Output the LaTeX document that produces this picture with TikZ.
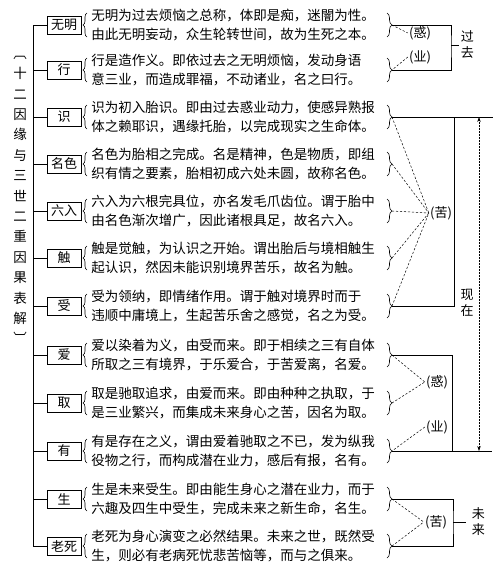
\documentclass[tikz,border=0pt]{standalone}
\usepackage{fontspec}
\setmainfont{Noto Sans CJK SC}
\usepackage{tikz}
\usetikzlibrary{arrows.meta, decorations.pathreplacing, positioning}
\tikzset{>={Stealth[length=5pt,width=3.4pt]}}
\tikzset{
	itembox/.style={draw, line width=0.6pt, minimum width=34pt, minimum height=18pt, inner sep=0pt, font=\fontsize{13}{13}\selectfont},
	textline/.style={anchor=west, inner sep=0pt, font=\fontsize{13.5}{14}\selectfont},
	tag/.style={inner sep=1pt, font=\fontsize{13}{13}\selectfont},
	vlabel/.style={align=center, inner sep=0pt, font=\fontsize{13}{16}\selectfont},
	lbrace/.style={decorate, decoration={brace, amplitude=4pt}},
	rbrace/.style={decorate, decoration={brace, amplitude=5pt}},
	guide/.style={line width=0.5pt, dash pattern=on 2.2pt off 1.8pt},
}

\begin{document}
\begin{tikzpicture}[x=1pt, y=-1pt, line width=0.6pt]
			\useasboundingbox (0,0) rectangle (500,570);
			\node [vlabel, font=\fontsize{13.5}{20.4}\selectfont] (title) at (20,200) {︹\\十\\二\\因\\缘\\与\\三\\世\\二\\重\\因\\果\\表\\解\\︺};
			\coordinate (trunk) at (33,0);
			\foreach \k/\y/\lab/\la/\lb in {
				1/25/无明/无明为过去烦恼之总称，体即是痴，迷闇为性。/由此无明妄动，众生轮转世间，故为生死之本。,
				2/70/行/行是造作义。即依过去之无明烦恼，发动身语/意三业，而造成罪福，不动诸业，名之曰行。,
				3/117/识/识为初入胎识。即由过去惑业动力，使感异熟报/体之赖耶识，遇缘托胎，以完成现实之生命体。,
				4/164/名色/名色为胎相之完成。名是精神，色是物质，即组/织有情之要素，胎相初成六处未圆，故称名色。,
				5/211/六入/六入为六根完具位，亦名发毛爪齿位。谓于胎中/由名色渐次增广，因此诸根具足，故名六入。,
				6/258/触/触是觉触，为认识之开始。谓出胎后与境相触生/起认识，然因未能识别境界苦乐，故名为触。,
				7/306/受/受为领纳，即情绪作用。谓于触对境界时而于/违顺中庸境上，生起苦乐舍之感觉，名之为受。,
				8/355/爱/爱以染着为义，由受而来。即于相续之三有自体/所取之三有境界，于乐爱合，于苦爱离，名爱。,
				9/403/取/取是驰取追求，由爱而来。即由种种之执取，于/是三业繁兴，而集成未来身心之苦，因名为取。,
				10/451/有/有是存在之义，谓由爱着驰取之不已，发为纵我/役物之行，而构成潜在业力，感后有报，名有。,
				11/499/生/生是未来受生。即由能生身心之潜在业力，而于/六趣及四生中受生，完成未来之新生命，名生。,
				12/546/老死/老死为身心演变之必然结果。未来之世，既然受/生，则必有老病死忧悲苦恼等，而与之俱来。}
			{
				\node [itembox] (box\k) at (64,\y) {\lab};
				\draw (trunk |- box\k.west) -- (box\k.west);
				\draw [lbrace] (87,\y+12) -- (87,\y-12);
				\node [textline] (txt\k-1) at (91,\y-9.5) {\la};
				\node [textline] (txt\k-2) at (91,\y+9.5) {\lb};
				\draw [rbrace] (387,\y-12) -- (387,\y+12);
				\coordinate (tip\k) at (392,\y);
			}
			\draw (trunk |- box1.west) -- (trunk |- box12.west);
			\coordinate (pastx) at (451,45);
			\draw (tip1) -| (pastx) |- (tip2);
			\node [tag] (huo1) at (420,33) {(惑)};
			\node [tag] (ye1) at (420,57) {(业)};
			\draw [guide] (tip1) -- (huo1.west);
			\draw [guide] (ye1.west) -- (tip2);
			\node [vlabel, anchor=west] (pastlab) at (460.5,45) {过\\去};
			\draw [shorten >=2pt] (pastx) -- (pastlab.west);
			\coordinate (nowx) at (454,0);
			\coordinate (causex) at (452,0);
			\coordinate (arrx) at (479,0);
			\coordinate (nowtop) at (493,117);
			\coordinate (nowbot) at (492,451);
			\draw (tip3) -- (nowtop);
			\draw (tip10) -- (nowbot);
			\draw (tip3 -| nowx) |- (tip7);
			\draw (tip8) -| (tip10 -| causex);
			\draw [<->, line width=0.5pt, densely dotted] (nowtop -| arrx) -- (nowbot -| arrx);
			\node [tag] (ku1) at (441,213) {(苦)};
			\foreach \k in {3,...,7} \draw [guide] (tip\k) -- (ku1.west);
			\node [tag] (huo2) at (437,382) {(惑)};
			\node [tag] (ye2) at (437,427) {(业)};
			\draw [guide] (tip8) -- (huo2.west);
			\draw [guide] (tip9) -- (huo2.west);
			\draw [guide] (ye2.west) -- (tip10);
			\node [vlabel] (nowlab) at (467,303) {现\\在};
			\coordinate (futx) at (453,522);
			\draw (tip11) -| (futx) |- (tip12);
			\node [tag] (ku2) at (436,522) {(苦)};
			\draw [guide] (tip11) -- (ku2.west);
			\draw [guide] (tip12) -- (ku2.west);
			\node [vlabel, anchor=west] (futlab) at (471.5,522) {未\\来};
			\draw [shorten >=6pt] (futx) -- (futlab.west);
		\end{tikzpicture}
\end{document}
